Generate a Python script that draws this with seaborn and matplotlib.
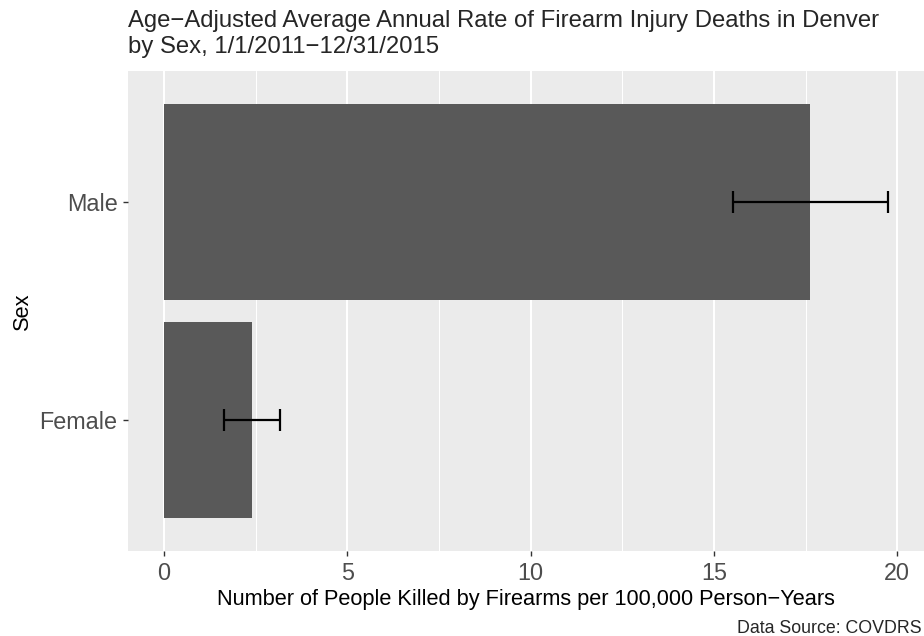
import numpy as np
import pandas as pd
import matplotlib
matplotlib.use('Agg')
import matplotlib.pyplot as plt
from matplotlib.ticker import MultipleLocator
import seaborn as sns

# values
sex = ['Male', 'Female']
rate = [17.63, 2.39]
lower = [15.51, 1.63]
upper = [19.74, 3.16]
x_ticks = [0, 5, 10, 15, 20]

title_1 = 'Age\u2212Adjusted Average Annual Rate of Firearm Injury Deaths in Denver'
title_2 = 'by Sex, 1/1/2011\u221212/31/2015'
x_label = 'Number of People Killed by Firearms per 100,000 Person\u2212Years'
y_label = 'Sex'
caption = 'Data Source: COVDRS'

df = pd.DataFrame({'Sex': sex, 'Rate': rate, 'Lower': lower, 'Upper': upper})

sns.set_style('darkgrid', {'axes.facecolor': '#EBEBEB', 'grid.color': 'white'})
plt.rcParams['font.family'] = ['Liberation Sans', 'DejaVu Sans']

W, H = 924, 636
fig = plt.figure(figsize=(W / 100, H / 100), dpi=100)
ax = fig.add_axes([128 / W, (H - 551) / H, (W - 128) / W, 480 / H])

sns.barplot(data=df, x='Rate', y='Sex', order=sex, color='#595959', saturation=1,
            width=0.9, errorbar=None, linewidth=0, edgecolor='none', ax=ax, zorder=2)

ypos = np.array([sex.index(s) for s in df['Sex']])
ax.errorbar(df['Rate'], ypos,
            xerr=[df['Rate'] - df['Lower'], df['Upper'] - df['Rate']],
            fmt='none', ecolor='black', elinewidth=1.6, capsize=7.9, capthick=1.6, zorder=3)

# ggplot style expansion: 5% on continuous, 0.6 on discrete
xmax = max(upper)
pad = 0.05 * xmax
ax.set_xlim(-pad, xmax + pad)
ax.set_ylim(len(sex) - 1 + 0.6, -0.6)

ax.set_xticks(x_ticks)
ax.xaxis.set_minor_locator(MultipleLocator(2.5))
ax.grid(False)
ax.xaxis.grid(True, which='major', color='white', linewidth=1.5)
ax.xaxis.grid(True, which='minor', color='white', linewidth=0.75)
ax.set_axisbelow(True)
for s in ax.spines.values():
    s.set_visible(False)

ax.tick_params(axis='both', which='major', bottom=True, left=True, length=3.6, width=1.0,
               color='#333333', labelcolor='#4D4D4D', labelsize=16.8)
ax.tick_params(axis='x', which='major', pad=4.0)
ax.tick_params(axis='y', which='major', pad=4.0)
ax.tick_params(axis='x', which='minor', length=0)

ax.set_xlabel(x_label, fontsize=15.7, color='black')
ax.xaxis.label.set_va('baseline')
ax.xaxis.set_label_coords(0.5, (551 - 605) / 480)
ax.set_ylabel(y_label, fontsize=15.7, color='black')
ax.yaxis.label.set_va('baseline')
ax.yaxis.set_label_coords((28 - 128) / 796, 0.5)

fig.text(128 / W, 1 - 27 / H, title_1, ha='left', va='baseline', fontsize=17.2)
fig.text(128 / W, 1 - 53 / H, title_2, ha='left', va='baseline', fontsize=17.2)
fig.text(922 / W, 1 - 633 / H, caption, ha='right', va='baseline', fontsize=12.8)

fig.savefig('out.png', dpi=100)
